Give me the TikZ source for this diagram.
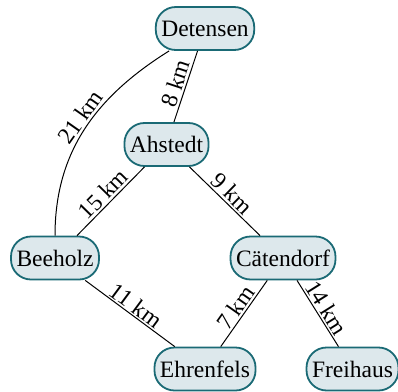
\documentclass[tikz,border=0pt]{standalone}
\usepackage{fontspec}
\setmainfont{Liberation Serif}
\definecolor{nodefill}{HTML}{DDE8EC}
\definecolor{nodeborder}{HTML}{1A6A75}
\begin{document}
\begin{tikzpicture}[x=1pt,y=-1pt,
  town/.style={draw=nodeborder,fill=nodefill,line width=1.8pt,rounded corners=20pt,
    minimum height=43pt,inner xsep=5.5pt,font=\fontsize{23.5}{26}\selectfont},
  road/.style={draw=black,line width=1pt},
  dist/.style={sloped,above,font=\fontsize{23.5}{26}\selectfont,inner sep=2pt}]
\useasboundingbox (0,0) rectangle (398,391);
\node[town] (D) at (205,28.5) {Detensen};
\node[town] (A) at (166.5,144.5) {Ahstedt};
\node[town] (B) at (55,258) {Beeholz};
\node[town] (C) at (283,258) {Cätendorf};
\node[town] (E) at (205,369) {Ehrenfels};
\node[town] (F) at (352.5,369) {Freihaus};
\draw[road] (D) -- node[dist] {8 km} (A);
\draw[road] (D) to[out=212,in=90] node[dist,pos=0.47] {21 km} (B);
\draw[road] (A) -- node[dist] {15 km} (B);
\draw[road] (A) -- node[dist] {9 km} (C);
\draw[road] (B) -- node[dist] {11 km} (E);
\draw[road] (C) -- node[dist] {7 km} (E);
\draw[road] (C) -- node[dist] {14 km} (F);
\end{tikzpicture}
\end{document}
